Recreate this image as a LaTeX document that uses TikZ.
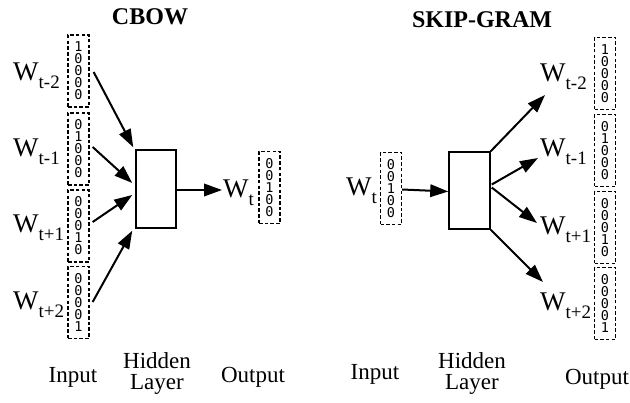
\documentclass[tikz,border=0pt]{standalone}
\usepackage{fontspec}
\setmainfont{Liberation Serif}
\newfontfamily\bitfont{DejaVu Sans Mono}
\usetikzlibrary{arrows.meta,positioning}

\tikzset{
  onehot/.style={draw,dash pattern=on 3.5pt off 2.2pt,line width=1.3pt,minimum width=21pt,minimum height=72pt,inner sep=0pt,align=center,font=\bitfont\fontsize{13.5}{12}\selectfont},
  hidbox/.style={draw,line width=1.5pt,inner sep=0pt},
  wlab/.style={font=\fontsize{27}{27}\selectfont,inner sep=0pt,anchor=base west},
  caption/.style={font=\fontsize{23}{21}\selectfont,align=center,inner sep=0pt},
  title/.style={font=\bfseries\fontsize{24}{24}\selectfont,inner sep=0pt},
  flow/.style={-{Triangle[length=18pt,width=12.5pt]},line width=2pt}
}
\newcommand{\wsub}[1]{W\raisebox{-8pt}{\fontsize{19}{19}\selectfont #1}}

\begin{document}
\begin{tikzpicture}[x=1pt,y=-1pt]
    \useasboundingbox (0,0) rectangle (630,403);
    % CBOW
    \node[title] (cbow) at (150,17) {CBOW};
    \node[onehot] (in1) at (78.5,71) {1\\0\\0\\0\\0};
    \node[onehot] (in2) at (78.5,149) {0\\1\\0\\0\\0};
    \node[onehot] (in3) at (78.5,226) {0\\0\\0\\1\\0};
    \node[onehot] (in4) at (78.5,302.5) {0\\0\\0\\0\\1};
    \node[wlab] (win1) at (13,81) {\wsub{t-2}};
    \node[wlab] (win2) at (13,157) {\wsub{t-1}};
    \node[wlab] (win3) at (13,233) {\wsub{t+1}};
    \node[wlab] (win4) at (13,310) {\wsub{t+2}};
    \node[hidbox,minimum width=40pt,minimum height=78pt] (hid) at (156,189) {};
    \node[onehot] (out) at (269.5,187.5) {0\\0\\1\\0\\0};
    \node[wlab] (wout) at (223,198) {\wsub{t}};
    \draw[flow] ([shift={(4,1)}]in1.east) -- ([shift={(-2,-2)}]hid.north west);
    \draw[flow] ([shift={(3,-2)}]in2.east) -- ([shift={(-3,-6)}]hid.west);
    \draw[flow] ([shift={(3,-4)}]in3.east) -- ([shift={(-3,6)}]hid.west);
    \draw[flow] ([shift={(3,-0.5)}]in4.east) -- ([shift={(-3,2)}]hid.south west);
    \draw[flow] ([yshift=-1pt]hid.east) -- ([shift={(-1,-8)}]wout.base west);
    \node[caption] (cin) at (73,377) {Input};
    \node[caption] (chid) at (157,374) {Hidden\\Layer};
    \node[caption] (cout) at (253,377) {Output};

    % SKIP-GRAM
    \node[title] (skip) at (482,20) {SKIP-GRAM};
    \node[onehot] (sin) at (391,188.5) {0\\0\\1\\0\\0};
    \node[wlab] (wsin) at (346,196) {\wsub{t}};
    \node[hidbox,minimum width=41pt,minimum height=77pt] (shid) at (469.5,190.5) {};
    \node[onehot] (so1) at (605,73.5) {1\\0\\0\\0\\0};
    \node[onehot] (so2) at (605,150.5) {0\\1\\0\\0\\0};
    \node[onehot] (so3) at (605,227.5) {0\\0\\0\\1\\0};
    \node[onehot] (so4) at (605,303.5) {0\\0\\0\\0\\1};
    \node[wlab] (wso1) at (540,82) {\wsub{t-2}};
    \node[wlab] (wso2) at (540,157) {\wsub{t-1}};
    \node[wlab] (wso3) at (540,235) {\wsub{t+1}};
    \node[wlab] (wso4) at (540,311) {\wsub{t+2}};
    \draw[flow] ([yshift=-1pt]sin.east) -- ([yshift=-1pt]shid.west);
    \draw[flow] (shid.north east) -- ([shift={(5,13)}]wso1.base west);
    \draw[flow] ([shift={(1,-6)}]shid.east) -- ([shift={(-2,1)}]wso2.base west);
    \draw[flow] ([shift={(1,-3)}]shid.east) -- ([shift={(-3,-12)}]wso3.base west);
    \draw[flow] (shid.south east) -- ([shift={(3,-29)}]wso4.base west);
    \node[caption] (sin2) at (375,374) {Input};
    \node[caption] (shid2) at (472,374) {Hidden\\Layer};
    \node[caption] (sout) at (597,379) {Output};
\end{tikzpicture}
\end{document}
